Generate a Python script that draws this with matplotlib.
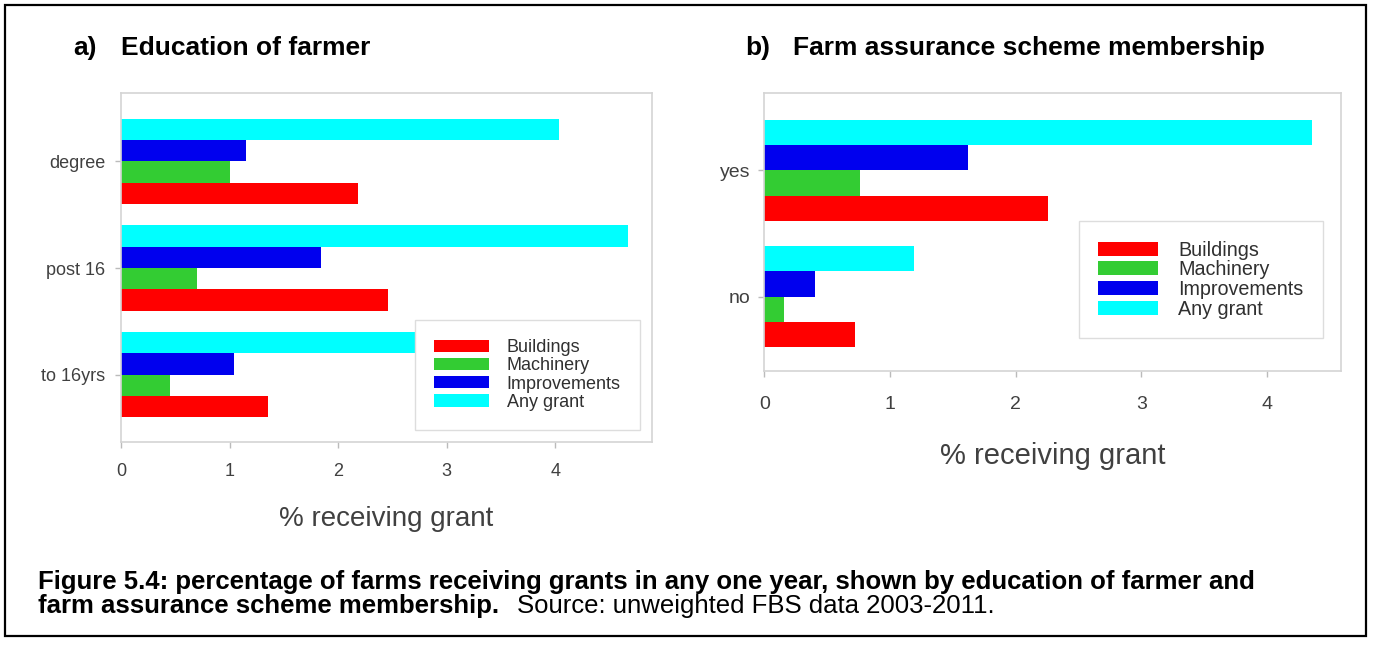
import matplotlib
matplotlib.use('Agg')
import matplotlib.pyplot as plt
from matplotlib.patches import Rectangle
import numpy as np

plt.rcParams['font.family'] = ['Liberation Sans', 'DejaVu Sans']

# data
series = ['Buildings', 'Machinery', 'Improvements', 'Any grant']
colors = ['#ff0000', '#33cc33', '#0000ee', '#00ffff']

edu_cats = ['to 16yrs', 'post 16', 'degree']
edu_vals = {
    'Buildings':    [1.35, 2.46, 2.18],
    'Machinery':    [0.45, 0.70, 1.00],
    'Improvements': [1.04, 1.84, 1.15],
    'Any grant':    [2.72, 4.67, 4.03],
}

fas_cats = ['no', 'yes']
fas_vals = {
    'Buildings':    [0.72, 2.26],
    'Machinery':    [0.16, 0.76],
    'Improvements': [0.40, 1.62],
    'Any grant':    [1.19, 4.36],
}

TXT = '#404040'
SPINE = '#d4d4d4'

fig = plt.figure(figsize=(13.75, 6.46), dpi=100)
ax1 = fig.add_axes([0.0880, 0.3163, 0.3862, 0.5393])
ax2 = fig.add_axes([0.5559, 0.4257, 0.4194, 0.4299])


def draw_panel(ax, cats, vals, xmax, ylim, fs_tick, fs_lab, fs_leg,
               leg_anchor, handleh, lspace, bpad, xpad, ypad, labelpad):
    y = np.arange(len(cats))
    h = 0.2
    for i, (s, c) in enumerate(zip(series, colors)):
        ax.barh(y - 0.3 + i * h, vals[s], height=h, color=c, label=s,
                edgecolor='none')
    ax.set_xlim(0, xmax)
    ax.set_ylim(*ylim)
    ax.set_yticks(y)
    ax.set_yticklabels(cats)
    ax.set_xticks([0, 1, 2, 3, 4])
    for sp in ax.spines.values():
        sp.set_color(SPINE)
        sp.set_linewidth(1.2)
    ax.tick_params(axis='y', length=4, width=1, color='#bbbbbb', pad=ypad,
                   labelsize=fs_tick, labelcolor=TXT)
    ax.tick_params(axis='x', length=4, width=1, color='#bbbbbb', pad=xpad,
                   labelsize=fs_tick, labelcolor=TXT)
    ax.set_xlabel('% receiving grant', fontsize=fs_lab, color=TXT,
                  labelpad=labelpad)
    leg = ax.legend(loc='lower right', bbox_to_anchor=leg_anchor,
                    bbox_transform=ax.transAxes, borderaxespad=0,
                    fontsize=fs_leg, fancybox=False, framealpha=1,
                    edgecolor='#dddddd', labelspacing=lspace,
                    handlelength=3.05, handleheight=handleh,
                    handletextpad=1.0, borderpad=bpad)
    leg.get_frame().set_linewidth(1.0)
    for t in leg.get_texts():
        t.set_color('#303030')


draw_panel(ax1, edu_cats, edu_vals, 4.89, (-0.63, 2.64), 13, 20, 13,
           (0.977, 0.034), 0.67, 0.07, 1.05, 11, 7.5, 19)
draw_panel(ax2, fas_cats, fas_vals, 4.59, (-0.59, 1.61), 14, 21, 14.2,
           (0.969, 0.118), 0.72, 0.03, 1.0, 14, 6, 21)

# panel titles
fig.text(0.0536, 0.9257, 'a)', fontsize=19, fontweight='bold', va='center')
fig.text(0.0883, 0.9257, 'Education of farmer', fontsize=19,
         fontweight='bold', va='center')
fig.text(0.5417, 0.9257, 'b)', fontsize=19, fontweight='bold', va='center')
fig.text(0.5767, 0.9257, 'Farm assurance scheme membership', fontsize=19,
         fontweight='bold', va='center')

# caption
fig.text(0.0276, 0.099,
         'Figure 5.4: percentage of farms receiving grants in any one year, '
         'shown by education of farmer and',
         fontsize=18.5, fontweight='bold', va='center')
bold2 = fig.text(0.0276, 0.062, 'farm assurance scheme membership.',
                 fontsize=18.5, fontweight='bold', va='center')
renderer = fig.canvas.get_renderer()
bb = bold2.get_window_extent(renderer=renderer)
fig.text((bb.x1 + 18) / 1375, 0.062, 'Source: unweighted FBS data 2003-2011.',
         fontsize=18.5, va='center')

# outer border
fig.patches.append(Rectangle((5 / 1375, 10 / 646), 1361 / 1375, 631 / 646,
                             transform=fig.transFigure, fill=False,
                             edgecolor='black', linewidth=1.6))

fig.savefig('out.png', dpi=100)
